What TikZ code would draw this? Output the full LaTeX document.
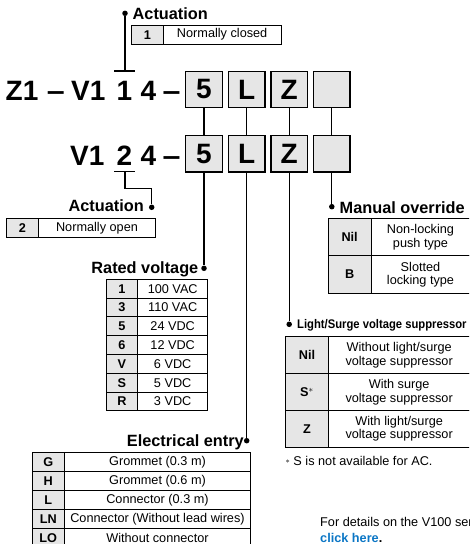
\documentclass[tikz,border=0pt]{standalone}
\usepackage{fontspec}
\setmainfont{Liberation Sans}
\newfontfamily\narrowsf[FakeStretch=0.9]{Liberation Sans}
\definecolor{keygray}{HTML}{E6E6E6}
\definecolor{linkblue}{HTML}{0B76C5}
\newcommand\bodyfont{\fontsize{12.7}{13.5}\selectfont}
\newcommand\titlefont{\fontsize{16.3}{18}\selectfont\bfseries}
\newcommand\codefont{\fontsize{28}{28}\selectfont\bfseries}

\begin{document}
\begin{tikzpicture}[
    x=1pt, y=-1pt,
    every node/.style={font=\bodyfont},
    codebox/.style={draw, line width=1.2pt, fill=keygray, minimum size=36.5pt,
                    inner sep=0, outer sep=0, font=\codefont},
    codetext/.style={inner sep=0, anchor=base, font=\codefont},
    keycell/.style={draw, line width=0.9pt, fill=keygray, inner sep=0, outer sep=0,
                    anchor=north west, font=\bodyfont\bfseries},
    valcell/.style={draw, line width=0.9pt, inner sep=0, outer sep=0,
                    anchor=north west, align=center},
    heading/.style={inner sep=0, font=\titlefont},
    dot/.style={circle, fill, inner sep=0, minimum size=5.5pt},
    conn/.style={line width=1.3pt}
  ]
  \useasboundingbox (0,0) rectangle (469,544);
  \clip (0,0) rectangle (469,544);

  % Model code, upper row
  \node[codetext, anchor=base west] (z1) at (5.5,100) {Z1};
  \node[codetext] (dasha) at (55.8,100) {\scalebox{1.15}[1]{–}};
  \node[codetext, anchor=base west] (v1a) at (71,100) {V1};
  \node[codetext] (acta) at (124.3,100) {1};
  \node[codetext] (foura) at (148.3,100) {4};
  \node[codetext] (dashb) at (171.7,100) {\scalebox{1.15}[1]{–}};

  % Model code, lower row
  \node[codetext, anchor=base west] (v1b) at (70,165) {V1};
  \node[codetext] (actb) at (124.3,165) {2};
  \node[codetext] (fourb) at (148.3,165) {4};
  \node[codetext] (dashc) at (171.7,165) {\scalebox{1.15}[1]{–}};

  % Option boxes
  \foreach \lab/\ch/\x in {5/5/204,L/L/246.7,Z/Z/289.2,O//331.8} {
    \node[codebox] (ra\lab) at (\x,89.5) {\ch};
    \node[codebox] (rb\lab) at (\x,153.7) {\ch};
    \draw[conn] (ra\lab) -- (rb\lab);
  }

  % Leader dots
  \node[dot] (dact) at (125,13.3) {};
  \node[dot] (dact2) at (151.7,207.3) {};
  \node[dot] (dvolt) at (204,268.3) {};
  \node[dot] (dentry) at (246.7,440.7) {};
  \node[dot] (dover) at (331.8,206.7) {};
  \node[dot] (dsupp) at (289.2,324.3) {};

  % Leaders
  \draw[conn] (rb5) -- (dvolt);
  \draw[conn] (rbL) -- (dentry);
  \draw[conn] (rbZ) -- (dsupp);
  \draw[conn] (rbO) -- (dover);

  \coordinate (bar1l) at (114,71);
  \coordinate (bar1r) at (135,71);
  \coordinate (bar1) at (125,71);
  \draw[conn] (bar1l) -- (bar1r);
  \draw[conn] (dact) -- (bar1);

  \coordinate (bar2l) at (114.3,171.7);
  \coordinate (bar2r) at (135,171.7);
  \coordinate (bar2) at (125,171.7);
  \draw[conn] (bar2l) -- (bar2r);
  \draw[conn] (bar2) -- ++(0,16.6) -| (dact2);

  % Headings
  \node[heading, anchor=base west] (hact) at (132.5,19) {Actuation};
  \node[heading, anchor=base east] (hact2) at (144,211.7) {Actuation};
  \node[heading, anchor=base east] (hvolt) at (198.5,273.3) {Rated voltage};
  \node[heading, anchor=base east] (hentry) at (244,446) {Electrical entry};
  \node[heading, anchor=base west] (hover) at (339.5,213.3) {Manual override};
  \node[heading, anchor=base west, font=\narrowsf\fontsize{12.5}{14}\selectfont\bfseries]
    (hsupp) at (297,328) {Light/Surge voltage suppressor};

  % Actuation tables
  \node[keycell, minimum width=31.6pt, minimum height=19.3pt] (ak1) at (131.7,25) {1};
  \node[valcell, minimum width=117.7pt, minimum height=19.3pt] (av1) at (ak1.north east) {Normally closed};
  \node[keycell, minimum width=31.6pt, minimum height=19pt] (ak2) at (6.7,218.3) {2};
  \node[valcell, minimum width=117.4pt, minimum height=19pt] (av2) at (ak2.north east) {Normally open};

  % Rated voltage
  \foreach \k/\v [count=\i from 0] in {1/100 VAC,3/110 VAC,5/24 VDC,6/12 VDC,V/6 VDC,S/5 VDC,R/3 VDC} {
    \node[keycell, minimum width=31.7pt, minimum height=18.8pt] (rk\i) at (106,279.3+18.8*\i) {\k};
    \node[valcell, minimum width=70pt, minimum height=18.8pt] (rv\i) at (rk\i.north east) {\v};
  }

  % Electrical entry
  \foreach \k/\v [count=\i from 0] in {G/Grommet (0.3 m),H/Grommet (0.6 m),L/Connector (0.3 m),
      LN/Connector (Without lead wires),LO/Without connector} {
    \node[keycell, minimum width=32pt, minimum height=19pt] (ek\i) at (32.3,452.3+19*\i) {\k};
    \node[valcell, minimum width=186.4pt, minimum height=19pt] (ev\i) at (ek\i.north east) {\v};
  }

  % Manual override
  \foreach \k/\v [count=\i from 0] in {Nil/{Non-locking\\push type},B/{Slotted\\locking type}} {
    \node[keycell, minimum width=42.7pt, minimum height=37.5pt] (mk\i) at (328.3,218.3+37.5*\i) {\k};
    \node[valcell, minimum width=99pt, minimum height=37.5pt] (mv\i) at (mk\i.north east) {\v};
  }

  % Light/Surge voltage suppressor
  \foreach \k/\v [count=\i from 0] in {Nil/{Without light/surge\\voltage suppressor},
      {S$^{\ast}$}/{With surge\\voltage suppressor},Z/{With light/surge\\voltage suppressor}} {
    \node[keycell, minimum width=42.6pt, minimum height=36.9pt] (sk\i) at (285.7,336.7+36.9*\i) {\k};
    \node[valcell, minimum width=141.7pt, minimum height=36.9pt] (sv\i) at (sk\i.north east) {\v};
  }

  % Notes
  \node[anchor=base west, inner sep=0] (fnote) at (285.5,465)
    {\raisebox{1.5pt}{\fontsize{8}{8}\selectfont$\ast$} S is not available for AC.};
  \node[anchor=base west, inner sep=0] (details) at (320,526.7) {For details on the V100 series,};
  \node[anchor=base west, inner sep=0, text=linkblue, font=\bodyfont\bfseries] (link)
    at (320,542.7) {click here\textcolor{black}{.}};
\end{tikzpicture}
\end{document}
